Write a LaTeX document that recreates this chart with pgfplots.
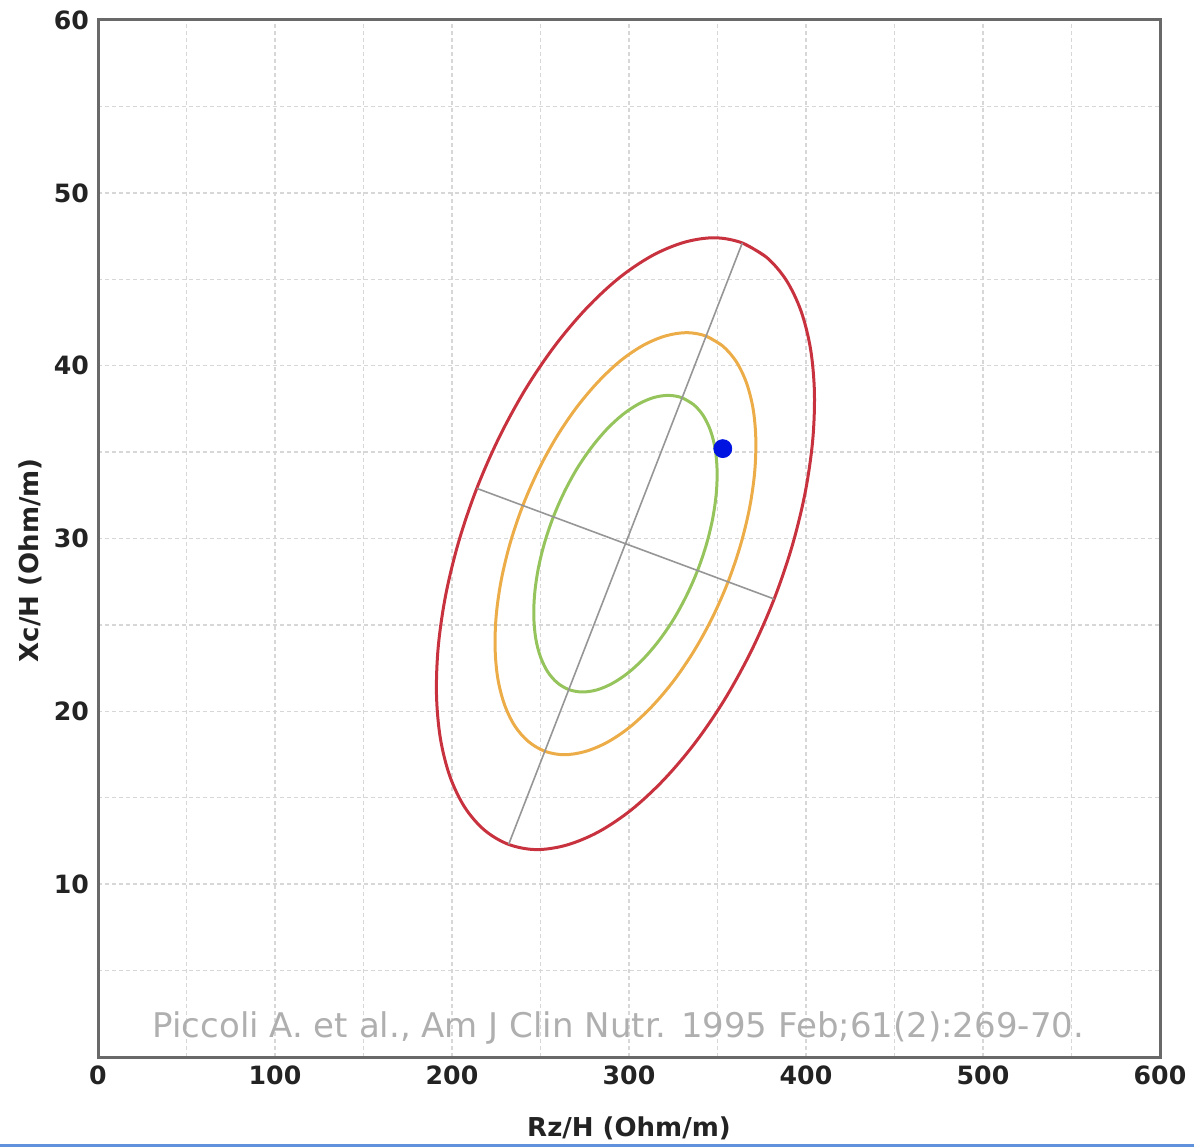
\documentclass[border=0pt]{standalone}
\usepackage{fontspec}
\setmainfont{DejaVu Sans}
\usepackage{pgfplots}
\pgfplotsset{compat=1.18}
\definecolor{redE}{RGB}{200,50,62}
\definecolor{orangeE}{RGB}{236,172,72}
\definecolor{greenE}{RGB}{150,196,92}
\definecolor{axc}{RGB}{150,150,150}
\definecolor{gridc}{RGB}{215,215,215}
\definecolor{framec}{RGB}{105,105,105}
\definecolor{labc}{RGB}{35,35,35}
\definecolor{citec}{RGB}{175,175,175}
\definecolor{barc}{RGB}{95,145,220}
\begin{document}
\begin{tikzpicture}
\useasboundingbox (0,0) rectangle (597pt,573.5pt);
\fill[barc] (0,0) rectangle (597pt,1.6pt);
\begin{axis}[
  at={(49pt,45pt)}, anchor=south west,
  width=531pt, height=518.5pt, scale only axis,
  xmin=0, xmax=600, ymin=0, ymax=60,
  xtick={0,100,...,600}, ytick={10,20,...,60},
  minor xtick={50,150,...,550}, minor ytick={5,15,...,55},
  grid=both,
  major grid style={gridc, dash pattern=on 2pt off 1.5pt, line width=0.7pt},
  minor grid style={gridc, dash pattern=on 2pt off 1.5pt, line width=0.7pt},
  major tick length=0pt, minor tick length=0pt,
  axis line style={framec, line width=1.5pt},
  /pgf/number format/assume math mode=true,
  ticklabel style={font=\fontsize{12.6}{15}\selectfont\bfseries, text=labc},
  xticklabel style={yshift=-1pt},
  yticklabel style={xshift=-1pt},
  label style={font=\fontsize{13}{15}\selectfont\bfseries, text=labc},
  xlabel={Rz/H (Ohm/m)},
  ylabel={Xc/H (Ohm/m)},
  xlabel style={at={(axis description cs:0.5,-0.0685)}, anchor=center},
  ylabel style={at={(axis description cs:-0.064,0.479)}, anchor=center},
]
% 95% ellipse
\addplot[redE, line width=1.5pt, line join=round, smooth, tension=0.55] coordinates {
(364.0,47.1) (377.6,46.28) (388.75,44.96) (397.16,43.17) (402.56,40.97) (404.76,38.43)
(403.74,35.63) (399.5,32.64) (392.18,29.57) (382,26.5) (369.26,23.53) (354.36,20.74)
(337.74,18.23) (319.92,16.07) (301.44,14.31) (282.84,13.03) (264.71,12.26) (247.58,12.0)
(232,12.3) (218.42,13.12) (207.25,14.44) (198.84,16.23) (193.44,18.43) (191.24,20.97)
(192.26,23.77) (196.5,26.76) (203.82,29.83) (214,32.9) (226.74,35.87) (241.64,38.66)
(258.26,41.17) (276.08,43.33) (294.56,45.09) (313.16,46.37) (331.29,47.14) (348.42,47.4)
(364.0,47.1) (377.6,46.28)};
% 75% ellipse
\addplot[orangeE, line width=1.5pt, line join=round, smooth, tension=0.55] coordinates {
(343.54,41.71) (352.91,41.14) (360.62,40.23) (366.42,38.99) (370.15,37.48) (371.66,35.72)
(370.96,33.79) (368.04,31.73) (362.98,29.61) (355.96,27.49) (347.17,25.44) (336.89,23.52)
(325.42,21.79) (313.12,20.30) (300.37,19.08) (287.54,18.20) (275.03,17.67) (263.21,17.49)
(252.46,17.69) (243.09,18.26) (235.38,19.17) (229.58,20.41) (225.85,21.92) (224.34,23.68)
(225.04,25.61) (227.96,27.67) (233.02,29.79) (240.04,31.91) (248.83,33.96) (259.11,35.88)
(270.58,37.61) (282.88,39.10) (295.63,40.32) (308.46,41.20) (320.97,41.73) (332.79,41.91)
(343.54,41.71) (352.91,41.14)};
% 50% ellipse
\addplot[greenE, line width=1.5pt, line join=round, smooth, tension=0.55] coordinates {
(330.01,38.14) (336.60,37.74) (342.01,37.10) (346.09,36.23) (348.71,35.17) (349.78,33.93)
(349.28,32.58) (347.23,31.13) (343.68,29.64) (338.74,28.15) (332.56,26.71) (325.33,25.35)
(317.27,24.14) (308.63,23.09) (299.67,22.24) (290.65,21.62) (281.85,21.24) (273.55,21.12)
(265.99,21.26) (259.40,21.66) (253.99,22.30) (249.91,23.17) (247.29,24.23) (246.22,25.47)
(246.72,26.82) (248.77,28.27) (252.32,29.76) (257.26,31.25) (263.44,32.69) (270.67,34.05)
(278.73,35.26) (287.37,36.31) (296.33,37.16) (305.35,37.78) (314.15,38.16) (322.45,38.28)
(330.01,38.14) (336.60,37.74)};
% ellipse axes
\addplot[axc, line width=0.8pt] coordinates {(232,12.3) (364,47.1)};
\addplot[axc, line width=0.8pt] coordinates {(214,32.9) (382,26.5)};
% subject point
\addplot[only marks, mark=*, mark size=4.5pt, color={rgb,255:red,0;green,20;blue,225}] coordinates {(353,35.2)};
\node[font=\fontsize{17}{20}\selectfont, text=citec] at (axis cs:294,1.7) {Piccoli A. et al., Am J Clin Nutr. 1995 Feb;61(2):269-70.};
\end{axis}
\end{tikzpicture}
\end{document}
